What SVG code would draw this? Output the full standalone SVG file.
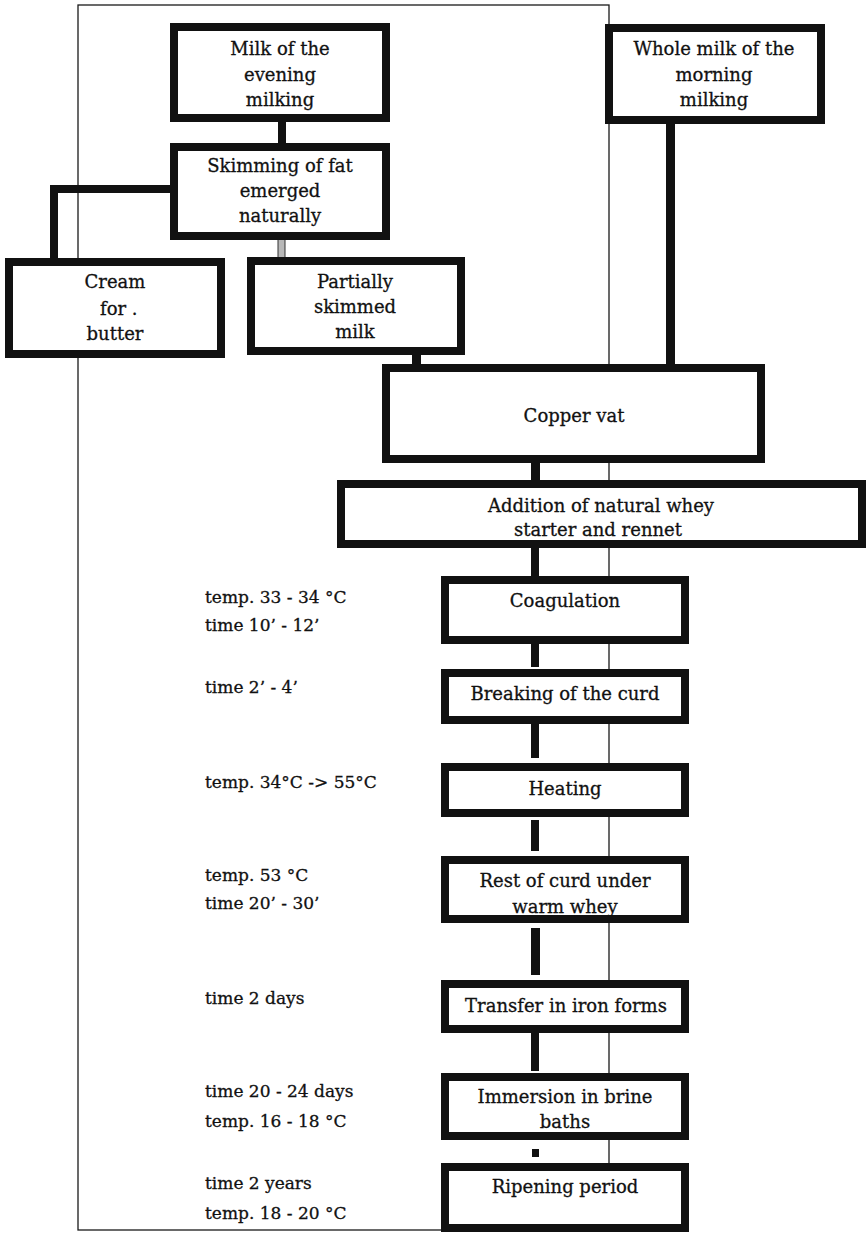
<svg xmlns="http://www.w3.org/2000/svg" width="868" height="1233" viewBox="0 0 868 1233">
<style>
.frame{fill:none;stroke:#1a1a1a;stroke-width:1.3}
.box{fill:#fff;stroke:#111;stroke-width:8}
.bar{fill:#111}
.gbar{fill:#b8b8b8;stroke:#333;stroke-width:1}
text{font-family:"DejaVu Serif","Liberation Serif",serif;font-size:18px;fill:#111;stroke:#111;stroke-width:0.3}
.c{text-anchor:middle}
.lb{font-size:17px}
</style>
<rect width="868" height="1233" fill="#fff"/>
<rect class="frame" x="78" y="5" width="531" height="1225"/>
<g id="connectors">
<rect class="bar" x="278" y="120" width="8" height="26"/>
<rect class="bar" x="50" y="185" width="124" height="8"/>
<rect class="bar" x="50" y="185" width="8" height="76"/>
<rect class="gbar" x="278" y="238" width="7" height="21"/>
<rect class="bar" x="412" y="353" width="9" height="13"/>
<rect class="bar" x="666" y="122" width="9" height="244"/>
<rect class="bar" x="531" y="461" width="9" height="21"/>
<rect class="bar" x="531" y="546" width="8" height="32"/>
<rect class="bar" x="531" y="642" width="8" height="25"/>
<rect class="bar" x="531" y="722" width="8" height="36"/>
<rect class="bar" x="531" y="820" width="8" height="31"/>
<rect class="bar" x="531" y="928" width="9" height="47"/>
<rect class="bar" x="531" y="1031" width="8" height="40"/>
<rect class="bar" x="532" y="1149" width="7" height="8"/>
</g>
<g id="evening">
<rect class="box" x="174" y="27" width="212" height="91"/>
<text class="c" x="280" y="55">Milk of the</text>
<text class="c" x="280" y="81">evening</text>
<text class="c" x="280" y="106">milking</text>
</g>
<g id="skimming">
<rect class="box" x="174" y="147" width="212" height="89"/>
<text class="c" x="280" y="172">Skimming of fat</text>
<text class="c" x="280" y="197">emerged</text>
<text class="c" x="280" y="222">naturally</text>
</g>
<g id="cream">
<rect class="box" x="9" y="262" width="212" height="92"/>
<text class="c" x="115" y="288">Cream</text>
<text x="100" y="315">for .</text>
<text class="c" x="115" y="340">butter</text>
</g>
<g id="partially">
<rect class="box" x="251" y="261" width="210" height="90"/>
<text class="c" x="355" y="288">Partially</text>
<text class="c" x="355" y="313">skimmed</text>
<text class="c" x="355" y="338">milk</text>
</g>
<g id="whole">
<rect class="box" x="609" y="28" width="212" height="92"/>
<text class="c" x="714" y="55">Whole milk of the</text>
<text class="c" x="714" y="81">morning</text>
<text class="c" x="714" y="106">milking</text>
</g>
<g id="copper">
<rect class="box" x="386" y="368" width="375" height="91"/>
<text class="c" x="574" y="422">Copper vat</text>
</g>
<g id="addition">
<rect class="box" x="341" y="484" width="521" height="60"/>
<text class="c" x="601" y="512">Addition of natural whey</text>
<text class="c" x="598" y="536">starter and rennet</text>
</g>
<g id="coagulation">
<rect class="box" x="445" y="580" width="240" height="60"/>
<text class="c" x="565" y="607">Coagulation</text>
</g>
<g id="breaking">
<rect class="box" x="445" y="673" width="240" height="47"/>
<text class="c" x="565" y="700">Breaking of the curd</text>
</g>
<g id="heating">
<rect class="box" x="445" y="767" width="240" height="46"/>
<text class="c" x="565" y="795">Heating</text>
</g>
<g id="rest">
<rect class="box" x="445" y="860" width="240" height="59"/>
<text class="c" x="565" y="887">Rest of curd under</text>
<text class="c" x="565" y="913">warm whey</text>
</g>
<g id="transfer">
<rect class="box" x="445" y="984" width="240" height="45"/>
<text class="c" x="566" y="1012">Transfer in iron forms</text>
</g>
<g id="immersion">
<rect class="box" x="445" y="1077" width="240" height="59"/>
<text class="c" x="565" y="1103">Immersion in brine</text>
<text class="c" x="565" y="1128">baths</text>
</g>
<g id="ripening">
<rect class="box" x="445" y="1167" width="240" height="61"/>
<text class="c" x="565" y="1193">Ripening period</text>
</g>
<g id="labels">
<text class="lb" x="205" y="603">temp. 33 - 34 °C</text>
<text class="lb" x="205" y="631">time 10’ - 12’</text>
<text class="lb" x="205" y="693">time 2’ - 4’</text>
<text class="lb" x="205" y="788">temp. 34°C -&gt; 55°C</text>
<text class="lb" x="205" y="881">temp. 53 °C</text>
<text class="lb" x="205" y="909">time 20’ - 30’</text>
<text class="lb" x="205" y="1004">time 2 days</text>
<text class="lb" x="205" y="1097">time 20 - 24 days</text>
<text class="lb" x="205" y="1127">temp. 16 - 18 °C</text>
<text class="lb" x="205" y="1189">time 2 years</text>
<text class="lb" x="205" y="1219">temp. 18 - 20 °C</text>
</g>
</svg>
